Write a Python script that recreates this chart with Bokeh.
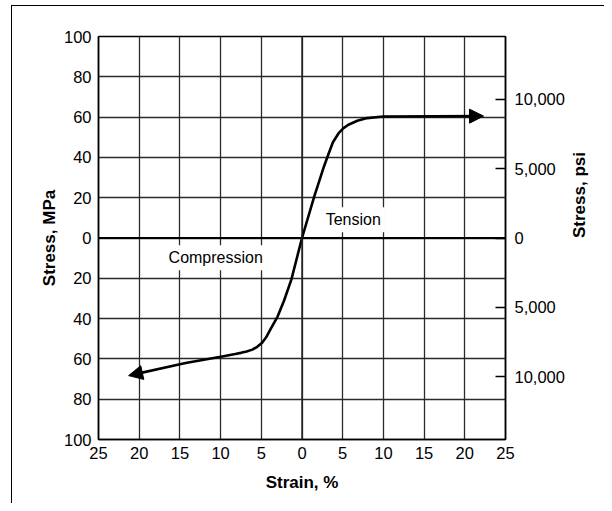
import math
from bokeh.plotting import figure
from bokeh.models import (FixedTicker, LinearAxis, Range1d, Label, Arrow,
                          NormalHead, Span)
from bokeh.embed import file_html
from bokeh.resources import INLINE

# ---- data ----
strain_ticks = [-25, -20, -15, -10, -5, 0, 5, 10, 15, 20, 25]
strain_labels = ["25", "20", "15", "10", "5", "0", "5", "10", "15", "20", "25"]
stress_ticks = [-100, -80, -60, -40, -20, 0, 20, 40, 60, 80, 100]
stress_labels = ["100", "80", "60", "40", "20", "0", "20", "40", "60", "80", "100"]
psi_ticks = [-10000, -5000, 0, 5000, 10000]
psi_labels = ["10,000", "5,000", "0", "5,000", "10,000"]
PSI_PER_MPA = 145.038

# stress-strain curve (compression negative, tension positive)
curve_strain = [-21.3, -14.3, -9.8, -8.2, -7.5, -6.8, -6.1, -5.5, -4.9, -4.4, -3.9, -3.0, -2.2,
                -1.3, 0.0, 1.5, 2.7, 3.3, 3.8, 4.5, 5.1, 5.7, 6.8, 8.0, 10.0, 22.3]
curve_stress = [-68.3, -62.0, -58.8, -57.6, -57.0, -56.3, -55.4, -54.0, -52.0, -49.3, -45.5, -39.0, -31.0,
                -20.5, 0.0, 20.5, 35.5, 42.2, 47.5, 52.0, 54.5, 56.2, 58.2, 59.5, 60.3, 60.5]

region_labels = ["Tension", "Compression"]
region_x = [6.3, -10.6]
region_y = [9.1, -9.8]

FONT = "Liberation Sans"

p = figure(width=604, height=503,
           x_range=Range1d(-25, 25), y_range=Range1d(-100, 100),
           output_backend="svg", toolbar_location=None,
           min_border_left=98, min_border_right=99,
           min_border_top=36, min_border_bottom=64)
p.extra_y_ranges = {"psi": Range1d(-100 * PSI_PER_MPA, 100 * PSI_PER_MPA)}

p.background_fill_color = "white"
p.border_fill_color = None
# decorative outer frame: top and left rules
p.styles = {
    "background": ("linear-gradient(#000,#000) 11px 5px / 600px 1.3px no-repeat, "
                   "linear-gradient(#000,#000) 11px 5px / 1.3px 500px no-repeat, white")
}
p.outline_line_color = "black"
p.outline_line_width = 1.5
p.outline_line_alpha = 1.0

# grid
p.xgrid.ticker = FixedTicker(ticks=strain_ticks)
p.ygrid.ticker = FixedTicker(ticks=stress_ticks)
for g in (p.xgrid[0], p.ygrid[0]):
    g.grid_line_color = "#2a2a2a"
    g.grid_line_width = 1.3
    g.grid_line_alpha = 1.0

p.add_layout(Span(location=0, dimension="width", line_color="black", line_width=1.8))
p.add_layout(Span(location=0, dimension="height", line_color="#222222", line_width=1.4))

def style_axis(ax):
    ax.minor_tick_line_color = None
    ax.axis_line_color = "black"
    ax.axis_line_width = 1.5
    ax.major_label_text_font = FONT
    ax.major_label_text_font_size = "16.5px"
    ax.major_label_text_color = "black"
    ax.axis_label_text_font = FONT
    ax.axis_label_text_font_style = "bold"
    ax.axis_label_text_font_size = "17px"
    ax.axis_label_text_color = "black"

xa = p.xaxis[0]
xa.ticker = FixedTicker(ticks=strain_ticks)
xa.major_label_overrides = {t: s for t, s in zip(strain_ticks, strain_labels)}
xa.axis_label = "Strain, %"
style_axis(xa)
xa.major_tick_in = 0
xa.major_tick_out = 0
xa.major_label_standoff = 7
xa.axis_label_standoff = 11

ya = p.yaxis[0]
ya.ticker = FixedTicker(ticks=stress_ticks)
ya.major_label_overrides = {t: s for t, s in zip(stress_ticks, stress_labels)}
ya.axis_label = "Stress, MPa"
style_axis(ya)
ya.major_tick_in = 0
ya.major_tick_out = 0
ya.major_label_standoff = 7
ya.axis_label_standoff = 2

ra = LinearAxis(y_range_name="psi", ticker=FixedTicker(ticks=psi_ticks),
                major_label_overrides={t: s for t, s in zip(psi_ticks, psi_labels)},
                axis_label="Stress, psi")
style_axis(ra)
ra.major_tick_in = 10
ra.major_tick_out = 0
ra.major_tick_line_color = "black"
ra.major_tick_line_width = 1.3
ra.major_label_standoff = 9
ra.axis_label_standoff = 12
ra.axis_label_orientation = math.pi / 2
p.add_layout(ra, "right")

# curve
p.line(curve_strain[1:-1], curve_stress[1:-1], line_color="black",
       line_width=2.6, line_join="round", line_cap="round")

for i0, i1 in ((1, 0), (-2, -1)):
    p.add_layout(Arrow(start=None,
                       end=NormalHead(size=14, fill_color="black", line_color="black", line_width=1),
                       x_start=curve_strain[i0], y_start=curve_stress[i0],
                       x_end=curve_strain[i1], y_end=curve_stress[i1],
                       line_color="black", line_width=2.6))

for txt, lx, ly in zip(region_labels, region_x, region_y):
    p.add_layout(Label(x=lx, y=ly, text=txt, text_align="center", text_baseline="middle",
                       text_font=FONT, text_font_size="16px", text_color="black",
                       background_fill_color="white", background_fill_alpha=1.0,
                       padding=4))

open("out.html", "w").write(file_html(p, INLINE))
